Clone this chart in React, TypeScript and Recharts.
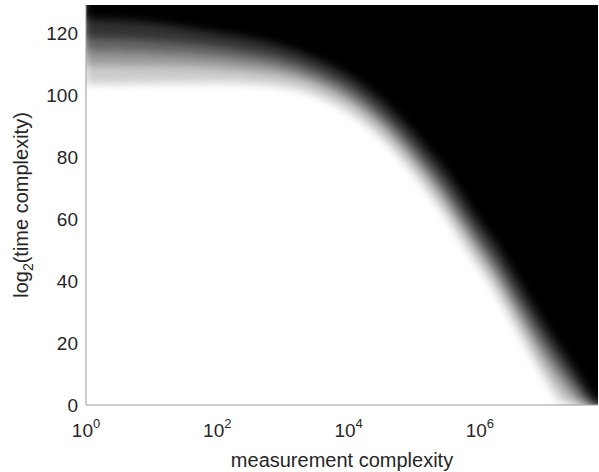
import { ComposedChart, Area, XAxis, YAxis, Label } from 'recharts';

// log10(measurement complexity) where the band edges were read
const logMeasurement = [0, 1, 2, 2.5, 3, 3.5, 4, 4.5, 5, 5.25, 5.5, 5.75, 6, 6.25, 6.5, 6.75, 7, 7.25, 7.5, 7.75, 8];

// log2(time complexity) where the shading reaches ~10%, 30%, 50%, 70%, 90% black
const edge10 = [103.5, 103.8, 104.0, 103.6, 102.6, 99.8, 94.4, 86.1, 74.5, 67.7, 60.2, 52.0, 44.2, 36.2, 26.9, 17.5, 8.5, 1.0, 0, 0, 0];
const edge30 = [109.5, 109.4, 108.7, 107.8, 106.4, 103.4, 98.0, 89.8, 78.4, 71.8, 64.6, 56.5, 48.6, 40.9, 31.8, 22.5, 13.5, 6.0, 1.0, 0, 0];
const edge50 = [114.0, 113.5, 112.2, 111.0, 109.1, 105.7, 100.4, 92.2, 81.0, 74.5, 67.5, 59.5, 51.6, 44.0, 35.0, 26.0, 17.3, 10.0, 3.5, 0.2, 0];
const edge70 = [118.5, 117.6, 115.6, 114.0, 111.8, 108.0, 102.7, 94.6, 83.6, 77.2, 70.4, 62.5, 54.6, 47.1, 38.2, 29.4, 21.0, 13.3, 6.2, 0.8, 0];
const edge90 = [124.5, 123.2, 120.0, 118.2, 115.5, 111.6, 106.2, 98.3, 87.5, 81.3, 74.8, 67.0, 59.0, 51.8, 43.1, 34.1, 25.4, 17.5, 9.7, 2.0, 0];

const xTicks = [0, 2, 4, 6];
const yTicks = [0, 20, 40, 60, 80, 100, 120];

const bands = [
  { key: 'edge10', fill: '#cccccc' },
  { key: 'edge30', fill: '#999999' },
  { key: 'edge50', fill: '#666666' },
  { key: 'edge70', fill: '#333333' },
  { key: 'edge90', fill: '#000000' },
];

const data = logMeasurement.map((x, i) => ({
  x,
  edge10: edge10[i],
  edge30: edge30[i],
  edge50: edge50[i],
  edge70: edge70[i],
  edge90: edge90[i],
}));

const FONT = '"Liberation Sans", Arial, Helvetica, sans-serif';
const TEXT = '#262626';
const AXIS = '#9a9a9a';

const PowerTick = ({ x, y, payload }: any) => (
  <text x={x} y={y + 32} textAnchor="middle" fill={TEXT} fontSize={19} fontFamily={FONT}>
    10<tspan dy={-9} fontSize={13}>{payload.value}</tspan>
  </text>
);

const YTitle = ({ viewBox }: any) => {
  const cx = 28;
  const cy = viewBox.y + viewBox.height / 2;
  return (
    <text x={cx} y={cy} transform={`rotate(-90 ${cx} ${cy})`} textAnchor="middle" fill={TEXT} fontSize={20} fontFamily={FONT}>
      log<tspan dy={5} fontSize={14}>2</tspan>
      <tspan dy={-5}>(time complexity)</tspan>
    </text>
  );
};

export default function App() {
  return (
    <div style={{ position: 'absolute', left: 0, top: 0, width: 599, height: 472, background: '#fff' }}>
      <style>{`.soft-band path { filter: url(#soften); }`}</style>
      <svg width={0} height={0} style={{ position: 'absolute' }}>
        <defs>
          <filter id="soften" x="-10%" y="-10%" width="120%" height="120%">
            <feGaussianBlur stdDeviation={4} />
          </filter>
        </defs>
      </svg>
      <ComposedChart width={599} height={472} data={data} margin={{ top: 5, right: 1, bottom: 0, left: 0 }}>
        <XAxis
          type="number"
          dataKey="x"
          domain={[0, 7.8]}
          ticks={xTicks}
          allowDataOverflow
          height={67}
          tickLine={false}
          tickSize={0}
          tickMargin={0}
          axisLine={{ stroke: AXIS }}
          tick={<PowerTick />}
        >
          <Label value="measurement complexity" position="insideBottom" offset={5} fill={TEXT} fontSize={20} fontFamily={FONT} />
        </XAxis>
        <XAxis xAxisId="top" orientation="top" type="number" dataKey="x" domain={[0, 7.8]} allowDataOverflow height={0} tick={false} tickLine={false} axisLine={{ stroke: AXIS }} />
        <YAxis
          type="number"
          domain={[0, 129]}
          ticks={yTicks}
          allowDataOverflow
          width={86}
          tickLine={false}
          tickSize={0}
          tickMargin={8}
          axisLine={{ stroke: AXIS }}
          tick={{ fill: TEXT, fontSize: 19, fontFamily: FONT }}
          label={<YTitle />}
        />
        {/* a sharp black copy under the blurred bands keeps the plot edges solid */}
        <Area
          type="monotone"
          dataKey="edge90"
          baseValue={135}
          stroke="none"
          fill="#000000"
          fillOpacity={1}
          dot={false}
          activeDot={false}
          isAnimationActive={false}
        />
        {bands.map((b) => (
          <Area
            key={b.key}
            className="soft-band"
            type="monotone"
            dataKey={b.key}
            baseValue={135}
            stroke="none"
            fill={b.fill}
            fillOpacity={1}
            dot={false}
            activeDot={false}
            isAnimationActive={false}
          />
        ))}
      </ComposedChart>
    </div>
  );
}
